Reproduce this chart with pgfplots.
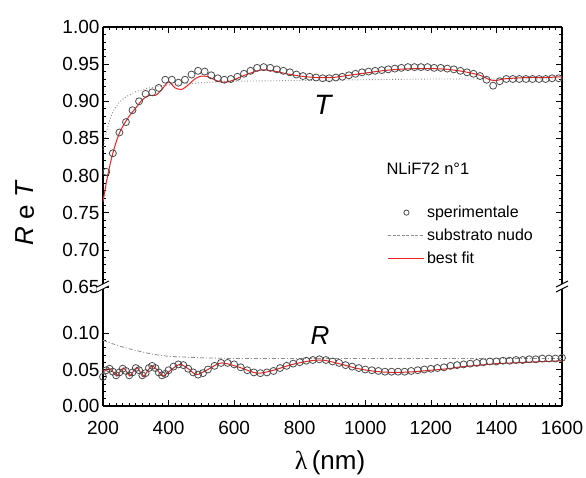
\documentclass[border=0pt]{standalone}
\usepackage{fontspec}
\setmainfont{Liberation Sans}
\newfontfamily\seriffont{Liberation Serif}
\usepackage{pgfplots}
\pgfplotsset{compat=1.18}
\usepackage{pgfplotstable}

\definecolor{circ}{HTML}{4A4A4A}
\definecolor{subs}{HTML}{8C8C8C}
\definecolor{fitred}{HTML}{F02020}

\pgfplotstableread{
x y
210 0.805
230 0.830
250 0.858
270 0.872
290 0.888
310 0.900
330 0.910
350 0.912
370 0.918
390 0.929
410 0.929
430 0.925
450 0.929
470 0.936
490 0.941
510 0.940
530 0.935
550 0.931
570 0.929
590 0.930
610 0.933
630 0.937
650 0.941
670 0.945
690 0.946
710 0.945
730 0.943
750 0.941
770 0.939
790 0.936
810 0.934
830 0.933
850 0.932
870 0.931
890 0.931
910 0.932
930 0.933
950 0.935
970 0.937
990 0.939
1010 0.940
1030 0.941
1050 0.942
1070 0.943
1090 0.944
1110 0.945
1130 0.946
1150 0.946
1170 0.946
1190 0.946
1210 0.945
1230 0.945
1250 0.944
1270 0.943
1290 0.941
1310 0.939
1330 0.937
1350 0.934
1370 0.929
1390 0.921
1410 0.927
1430 0.930
1450 0.930
1470 0.930
1490 0.930
1510 0.930
1530 0.930
1550 0.930
1570 0.931
1590 0.931
}\Texp

\pgfplotstableread{
x y
200 0.765
210 0.790
220 0.812
230 0.830
240 0.845
250 0.857
260 0.866
280 0.880
300 0.891
320 0.902
340 0.908
360 0.908
380 0.916
400 0.926
420 0.918
440 0.916
460 0.922
480 0.930
500 0.934
520 0.933
540 0.929
560 0.926
580 0.926
600 0.929
620 0.933
650 0.938
680 0.942
700 0.942
730 0.940
760 0.937
800 0.934
850 0.932
900 0.932
950 0.935
1000 0.938
1050 0.941
1100 0.943
1150 0.944
1200 0.944
1250 0.943
1300 0.940
1350 0.935
1380 0.929
1400 0.928
1420 0.930
1450 0.931
1500 0.932
1550 0.932
1600 0.933
}\Tfit

\pgfplotstableread{
x y
200 0.835
210 0.858
220 0.874
230 0.886
250 0.899
270 0.906
300 0.913
340 0.918
400 0.922
500 0.925
600 0.927
800 0.928
1000 0.929
1200 0.930
1400 0.930
1600 0.930
}\Tsub

\pgfplotstableread{
x y
200 0.040
210 0.049
220 0.051
230 0.047
240 0.042
250 0.046
260 0.051
270 0.048
280 0.042
290 0.046
300 0.052
310 0.049
320 0.042
330 0.045
340 0.052
350 0.055
360 0.052
370 0.046
380 0.042
390 0.044
400 0.049
415 0.054
430 0.057
445 0.056
460 0.051
475 0.046
490 0.043
505 0.045
520 0.050
540 0.055
560 0.059
580 0.059
600 0.057
620 0.053
640 0.049
660 0.046
680 0.045
700 0.046
720 0.048
740 0.052
760 0.055
780 0.058
800 0.060
820 0.062
840 0.063
860 0.064
880 0.063
900 0.061
920 0.059
940 0.056
960 0.054
980 0.052
1000 0.050
1020 0.049
1040 0.048
1060 0.047
1080 0.047
1100 0.047
1120 0.047
1140 0.048
1160 0.049
1180 0.050
1200 0.051
1220 0.052
1240 0.053
1260 0.055
1280 0.056
1300 0.057
1320 0.058
1340 0.059
1360 0.060
1380 0.061
1400 0.061
1420 0.062
1440 0.062
1460 0.063
1480 0.063
1500 0.064
1520 0.064
1540 0.065
1560 0.065
1580 0.065
1600 0.066
}\Rexp

\pgfplotstableread{
x y
200 0.046
210 0.050
221 0.051
232 0.046
242 0.041
252 0.047
262 0.052
272 0.047
282 0.041
292 0.047
303 0.053
313 0.047
323 0.040
336 0.048
349 0.055
366 0.049
383 0.041
409 0.050
435 0.057
460 0.051
486 0.043
524 0.051
562 0.059
616 0.053
670 0.045
720 0.049
770 0.056
820 0.061
868 0.063
920 0.058
980 0.051
1040 0.047
1097 0.046
1150 0.047
1200 0.049
1250 0.051
1300 0.054
1350 0.056
1400 0.058
1450 0.059
1500 0.060
1550 0.061
1600 0.062
}\Rfit

\pgfplotstableread{
x y
200 0.090
250 0.082
300 0.076
350 0.071
400 0.068
500 0.066
600 0.065
800 0.065
1000 0.065
1200 0.065
1400 0.065
1600 0.065
}\Rsub

\pgfplotsset{
  myax/.style={
    scale only axis, width=459pt,
    xmin=200, xmax=1600,
    xtick={200,400,...,1600},
    minor x tick num=9, minor y tick num=4,
    tick align=inside,
    major tick length=6pt, minor tick length=3pt,
    tick style={line width=0.7pt, black},
    axis line style={line width=1.1pt, black, -},
    ticklabel style={font=\fontsize{19}{22}\selectfont},
    /pgf/number format/assume math mode=true,
    xticklabel style={/pgf/number format/1000 sep={}, yshift=-12pt},
    yticklabel style={/pgf/number format/.cd, fixed, fixed zerofill, precision=2},
    clip=false,
  },
  expmark/.style={only marks, mark=o, mark size=3.5pt, mark options={draw=circ, line width=0.8pt}},
  leglinecode/.style={legend image code/.code={\draw[##1] (0pt,0pt) -- (36pt,0pt);}},
  legmarkcode/.style={legend image code/.code={\draw[##1] plot coordinates {(18pt,0pt)};}},
}

\begin{document}
\begin{tikzpicture}
\path[use as bounding box] (-103pt,-72pt) rectangle (483pt,406pt);

% lower axis (R)
\begin{axis}[myax, at={(0pt,0pt)}, anchor=south west, height=119pt,
  axis x line*=bottom, ymin=0, ymax=0.163, ytick={0,0.05,0.10}]
\addplot[subs, line width=0.8pt, dash pattern=on 4pt off 2pt on 1pt off 2pt] table {\Rsub};
\addplot[expmark] table {\Rexp};
\addplot[fitred, line width=1pt, smooth] table {\Rfit};
\node[font=\fontsize{26}{30}\selectfont\itshape] at (axis cs:862,0.097) {R};
\end{axis}

% upper axis (T)
\begin{axis}[myax, at={(0pt,119pt)}, anchor=south west, height=260pt,
  axis x line*=top, xticklabels={}, ymin=0.65, ymax=1.00,
  ytick={0.65,0.70,...,1.001},
  legend style={at={(rel axis cs:0.618,0.335)}, anchor=north west, draw=none, fill=none,
    font=\fontsize{16}{19}\selectfont, inner sep=1pt,
    nodes={inner ysep=5pt}},
  legend cell align=left]
\addlegendimage{expmark, mark size=2.6pt, legmarkcode}
\addlegendentry{sperimentale}
\addlegendimage{draw=subs, color=subs, line width=0.6pt, dash pattern=on 3pt off 1.5pt, leglinecode}
\addlegendentry{substrato nudo}
\addlegendimage{draw=fitred, color=fitred, line width=1.2pt, leglinecode}
\addlegendentry{best fit}
\addplot[subs, line width=0.9pt, dotted, forget plot] table {\Tsub};
\addplot[expmark, forget plot] table {\Texp};
\addplot[fitred, line width=1pt, smooth, forget plot] table {\Tfit};
\node[font=\fontsize{28}{32}\selectfont\itshape] at (axis cs:871,0.895) {T};
\node[font=\fontsize{16.5}{19}\selectfont] at (axis cs:1191,0.810) {NLiF72 n°1};
\end{axis}

% axis break marks
\foreach \xx in {0pt,459pt}{
  \fill[white] ([xshift=-6pt,yshift=-5pt]\xx,119pt) -- ([xshift=6pt,yshift=1pt]\xx,119pt) -- ([xshift=6pt,yshift=6pt]\xx,119pt) -- ([xshift=-6pt,yshift=0pt]\xx,119pt) -- cycle;
  \draw[line width=0.9pt] ([xshift=-6pt,yshift=-5pt]\xx,119pt) -- ([xshift=6pt,yshift=1pt]\xx,119pt);
  \draw[line width=0.9pt] ([xshift=-6pt,yshift=0pt]\xx,119pt) -- ([xshift=6pt,yshift=6pt]\xx,119pt);
}

% axis labels
\node[rotate=90, font=\fontsize{26}{30}\selectfont] at (-78pt,193pt) {\textit{R} e \textit{T}};
\node[font=\fontsize{26}{30}\selectfont] at (227pt,-57pt) {{\seriffont λ}\,(nm)};
\end{tikzpicture}
\end{document}
